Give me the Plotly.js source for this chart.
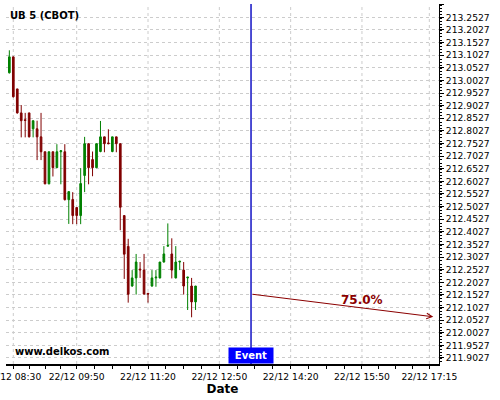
<!DOCTYPE html>
<html>
<head>
<meta charset="utf-8">
<script src="https://cdn.plot.ly/plotly-3.0.1.min.js"></script>
<style>html,body{margin:0;padding:0;background:#fff;}#chart{width:500px;height:400px;}</style>
</head>
<body>
<div id="chart"></div>
<script>
var day = '2023-12-22 ';
var times = ['08:25','08:30','08:35','08:40','08:45','08:50','08:55','09:00','09:05','09:10','09:15','09:20',
  '09:25','09:30','09:35','09:40','09:45','09:50','09:55','10:00','10:05','10:10','10:15','10:20',
  '10:25','10:30','10:35','10:40','10:45','10:50','10:55','11:00','11:05','11:10','11:15','11:20',
  '11:25','11:30','11:35','11:40','11:45','11:50','11:55','12:00','12:05','12:10','12:15','12:20'];
var opens = [213.033,213.096,212.969,212.874,212.847,212.874,212.811,212.811,212.779,212.720,212.593,212.720,
  212.657,212.720,212.720,212.530,212.531,212.499,212.467,212.626,212.752,212.689,212.657,212.721,
  212.779,212.755,212.721,212.779,212.752,212.467,212.345,212.188,212.220,212.255,212.251,212.159,
  212.188,212.220,212.220,212.283,212.346,212.315,212.220,212.283,212.251,212.220,212.188,212.125];
var highs = [213.122,213.096,212.969,212.905,212.874,212.874,212.843,212.843,212.874,212.720,212.720,212.720,
  212.750,212.724,212.750,212.562,212.560,212.499,212.655,212.779,212.752,212.721,212.752,212.842,
  212.779,212.809,212.779,212.779,212.752,212.467,212.375,212.251,212.315,212.283,212.315,212.159,
  212.251,212.251,212.283,212.346,212.436,212.377,212.346,212.286,212.283,212.223,212.220,212.188];
var lows = [213.030,212.935,212.871,212.777,212.777,212.777,212.777,212.687,212.687,212.591,212.591,212.622,
  212.657,212.591,212.527,212.434,212.433,212.433,212.433,212.560,212.591,212.623,212.655,212.718,
  212.718,212.750,212.718,212.718,212.409,212.216,212.122,212.185,212.154,212.220,212.154,212.122,
  212.185,212.185,212.218,212.281,212.344,212.218,212.218,212.251,212.154,212.093,212.064,212.093];
var closes = [213.096,212.938,212.874,212.843,212.844,212.779,212.843,212.779,212.720,212.593,212.720,212.657,
  212.720,212.724,212.530,212.562,212.467,212.467,212.594,212.752,212.657,212.657,212.752,212.779,
  212.752,212.752,212.779,212.752,212.500,212.314,212.155,212.220,212.283,212.252,212.156,212.156,
  212.220,212.223,212.283,212.315,212.349,212.251,212.283,212.286,212.188,212.223,212.125,212.188];

var xTickTimes = ['08:30','09:50','11:20','12:50','14:20','15:50','17:15'];
var xTickLabels = ['22/12 08:30','22/12 09:50','22/12 11:20','22/12 12:50','22/12 14:20','22/12 15:50','22/12 17:15'];
var xMinorTimes = ['08:50','09:10','09:30','10:12:30','10:35','10:57:30','11:42:30','12:05','12:27:30',
  '13:12:30','13:35','13:57:30','14:42:30','15:05','15:27:30','16:11:15','16:32:30','16:53:45'];

var eventTime = '13:30';
var forecastStart = {time: '13:30', price: 212.156};
var forecastEnd = {time: '17:20', price: 212.066};
var forecastLabel = '75.0%';
var forecastLabelPos = {time: '15:50', price: 212.134};
var titleText = 'UB 5 (CBOT)';
var sourceText = 'www.delkos.com';

function d(t){ return day + t; }

var trace = {
  type: 'candlestick',
  x: times.map(d), open: opens, high: highs, low: lows, close: closes,
  increasing: {line: {color: '#008000', width: 1}, fillcolor: '#008000'},
  decreasing: {line: {color: '#800000', width: 1}, fillcolor: '#800000'},
  whiskerwidth: 0,
  hoverinfo: 'skip',
  showlegend: false
};

var fontFam = 'DejaVu Sans, sans-serif';
var gridC = '#cccccc';

var allTickVals = xTickTimes.map(d).concat(xMinorTimes.map(d));
var allTickText = xTickLabels.concat(xMinorTimes.map(function(){ return ''; }));

var gridShapes = xTickTimes.map(function(t){
  return {type: 'line', xref: 'x', yref: 'paper', x0: d(t), x1: d(t), y0: 0, y1: 1,
          line: {color: gridC, width: 1, dash: '3px,3px'}, layer: 'below'};
});

var layout = {
  width: 500, height: 400,
  margin: {l: 6, r: 61, t: 4, b: 36, pad: 0},
  paper_bgcolor: '#ffffff', plot_bgcolor: '#ffffff',
  showlegend: false,
  boxgap: 0.4,
  font: {family: fontFam, size: 9.2, color: '#000'},
  xaxis: {
    type: 'date',
    range: [d('08:20:47'), d('17:27:13')],
    rangeslider: {visible: false},
    tickmode: 'array', tickvals: allTickVals, ticktext: allTickText,
    ticks: 'outside', ticklen: 3, tickcolor: '#000', tickwidth: 1,
    ticklabeloverflow: 'allow',
    showline: true, linecolor: '#000', linewidth: 1.5,
    showgrid: false,
    zeroline: false,
    tickfont: {family: fontFam, size: 9.2, color: '#000'},
    title: {text: 'Date', font: {family: fontFam, size: 12, weight: 'bold', color: '#000'}, standoff: 4},
    fixedrange: true
  },
  yaxis: {
    side: 'right',
    range: [211.8789, 213.3055],
    tickmode: 'linear', tick0: 211.9027, dtick: 0.05, tickformat: '.4f',
    ticks: 'outside', ticklen: 4, tickcolor: '#000', tickwidth: 1,
    showline: true, linecolor: '#000', linewidth: 1,
    showgrid: true, gridcolor: gridC, griddash: '3px,3px', gridwidth: 1,
    zeroline: false,
    tickfont: {family: fontFam, size: 9.2, color: '#000'},
    minor: {dtick: 0.0125, ticks: 'outside', ticklen: 2, tickcolor: '#000', showgrid: false},
    fixedrange: true
  },
  shapes: gridShapes.concat([{
    type: 'line', xref: 'x', yref: 'paper',
    x0: d(eventTime), x1: d(eventTime), y0: 0, y1: 1,
    line: {color: '#0000c0', width: 1.4}
  }]),
  annotations: [
    {xref: 'paper', yref: 'paper', x: 0.004, y: 0.967, xanchor: 'left', yanchor: 'middle',
     text: titleText, showarrow: false, font: {family: fontFam, size: 10, weight: 'bold', color: '#000'}},
    {xref: 'paper', yref: 'paper', x: 0.017, y: 0.036, xanchor: 'left', yanchor: 'middle',
     text: sourceText, showarrow: false, font: {family: fontFam, size: 10, weight: 'bold', color: '#000'}},
    {xref: 'x', yref: 'paper', x: d(eventTime), y: 0, xanchor: 'center', yanchor: 'bottom',
     text: 'Event', showarrow: false, bgcolor: '#0000ff', width: 44, height: 15, borderpad: 0,
     font: {family: fontFam, size: 10, weight: 'bold', color: '#ffffff'}},
    {xref: 'x', yref: 'y', x: d(forecastEnd.time), y: forecastEnd.price,
     axref: 'x', ayref: 'y', ax: d(forecastStart.time), ay: forecastStart.price,
     showarrow: true, arrowhead: 5, arrowsize: 1.1, arrowwidth: 1, arrowcolor: '#8b0000', text: ''},
    {xref: 'x', yref: 'y', x: d(forecastLabelPos.time), y: forecastLabelPos.price,
     text: forecastLabel, showarrow: false, xanchor: 'center', yanchor: 'middle',
     font: {family: fontFam, size: 12, weight: 'bold', color: '#8b0000'}}
  ]
};

Plotly.newPlot('chart', [trace], layout, {staticPlot: true, displayModeBar: false});
</script>
</body>
</html>
